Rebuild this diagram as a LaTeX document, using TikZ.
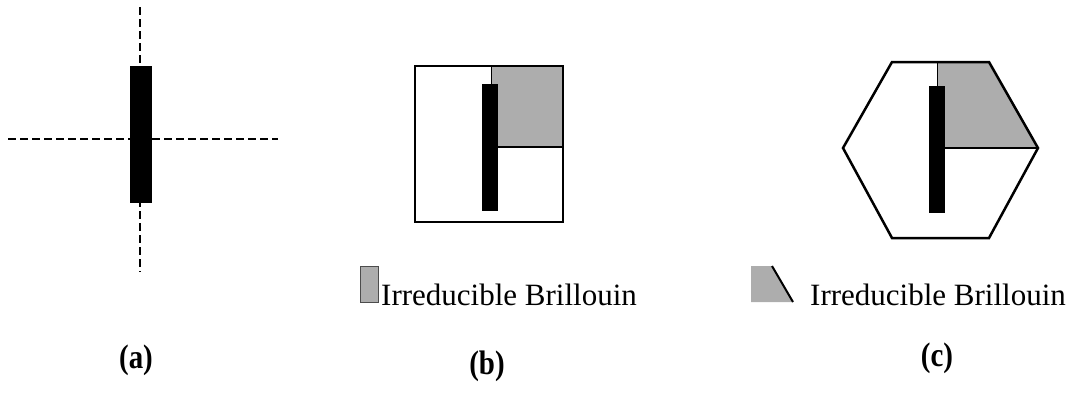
\documentclass[tikz,border=0pt]{standalone}
\usepackage{fontspec}
\setmainfont{Liberation Serif}
\begin{document}
\begin{tikzpicture}[x=1pt,y=-1pt,
  axis/.style={line width=2.5pt,dash pattern=on 8pt off 4pt},
  bar/.style={fill=black},
  zone/.style={line width=2.5pt,line join=miter},
  ibz/.style={fill=black!32},
  legtext/.style={inner sep=0pt,anchor=base west,font=\fontsize{31}{34}\selectfont},
  sublabel/.style={inner sep=0pt,font=\fontsize{34}{38}\selectfont\bfseries}]
\useasboundingbox (0,0) rectangle (1079,394);
% (a)
\draw[axis] (140,7) -- (140,272);
\draw[axis] (8,139) -- (278,139);
\fill[bar] (130,66) rectangle (152,203);
% (b)
\fill[ibz] (491,66) rectangle (563,147);
\draw[line width=2pt] (491,147) -- (563,147);
\draw[line width=1pt] (491,66) -- (491,84);
\fill[bar] (482,84) rectangle (498,211);
\draw[zone] (415,66) rectangle (563,222);
% (c)
\fill[ibz] (937,62) -- (989,62) -- (1038,148) -- (937,148) -- cycle;
\draw[line width=2pt] (937,148) -- (1038,148);
\draw[line width=1pt] (937,62) -- (937,86);
\fill[bar] (929,86) rectangle (945,213);
\draw[zone] (843,148) -- (892,62) -- (989,62) -- (1038,148) -- (989,238) -- (892,238) -- cycle;
% legends
\fill[ibz] (360,266) rectangle (378,302);
\draw[line width=1pt,black!70] (360,266) rectangle (378,302);
\node[legtext] (lb) at (381,305) {Irreducible Brillouin};
\fill[ibz] (751,266) -- (772,266) -- (793,302) -- (751,302) -- cycle;
\draw[line width=2pt] (772,266) -- (793,302);
\node[legtext] (lc) at (810,305) {Irreducible Brillouin};
% sub labels
\node[sublabel] (a) at (136,360) {\scalebox{0.85}[1]{(a)}};
\node[sublabel] (b) at (487,366) {\scalebox{0.85}[1]{(b)}};
\node[sublabel] (c) at (937,358) {\scalebox{0.85}[1]{(c)}};
\end{tikzpicture}
\end{document}
